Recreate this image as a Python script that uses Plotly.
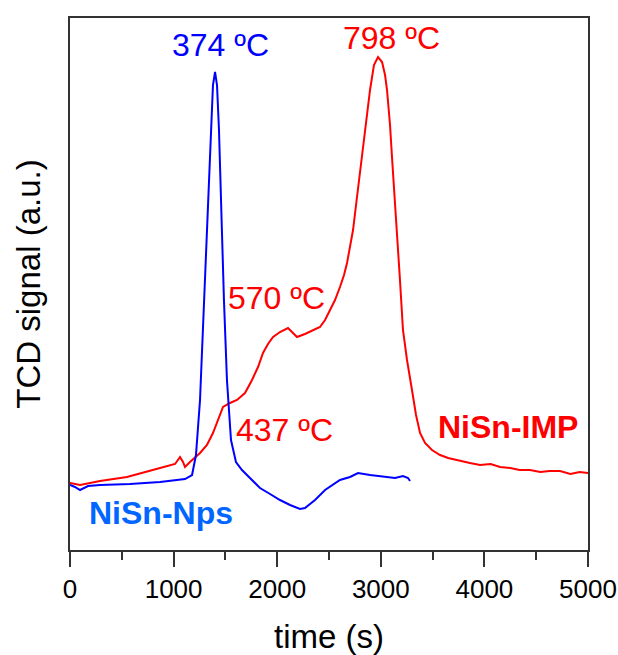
import plotly.graph_objects as go

# NiSn-Nps (blue)
nps_t = [0, 48, 97, 174, 290, 579, 869, 1110, 1178, 1216, 1255, 1294, 1332, 1361, 1380, 1400,
         1419, 1438, 1457, 1486, 1515, 1554, 1602, 1660, 1737, 1834, 1931, 2027, 2124, 2220,
         2268, 2365, 2462, 2606, 2703, 2780, 2896, 3041, 3137, 3214, 3263, 3282]
nps_s = [65, 63, 60, 64, 65, 66, 68, 71, 75, 95, 150, 250, 350, 430, 465, 478,
         465, 420, 350, 250, 170, 110, 88, 80, 72, 62, 56, 50, 45, 41,
         42, 50, 60, 70, 73, 77, 75, 73, 72, 74, 72, 69]

# NiSn-IMP (red)
imp_t = [0, 97, 290, 550, 869, 1014, 1062, 1091, 1110, 1158, 1255, 1322, 1380, 1429, 1477,
         1544, 1612, 1689, 1757, 1815, 1863, 1911, 1960, 2027, 2104, 2143, 2191, 2268, 2336,
         2413, 2462, 2510, 2558, 2606, 2645, 2674, 2703, 2732, 2761, 2790, 2819, 2857, 2896,
         2934, 2973, 3012, 3041, 3060, 3089, 3108, 3137, 3157, 3185, 3214, 3253, 3301, 3340,
         3379, 3427, 3494, 3572, 3650, 3765, 3860, 3958, 4060, 4151, 4250, 4340, 4440, 4540,
         4630, 4730, 4830, 4920, 5000]
imp_s = [67, 65, 69, 73, 82, 86, 93, 88, 83, 88, 97, 105, 117, 130, 143,
         147, 150, 157, 170, 183, 197, 206, 213, 218, 222, 218, 213, 216, 219,
         223, 230, 240, 250, 263, 275, 287, 302, 320, 345, 369, 393, 428, 460,
         485, 493, 488, 475, 460, 425, 393, 350, 320, 270, 220, 190, 160, 135,
         117, 107, 100, 95, 92, 89, 87, 85, 86, 83, 82, 80, 80, 78,
         79, 79, 76, 78, 77]

# annotations: (x, y, text, color, bold)
labels = [
    (1448, 505, "374 ºC", "rgb(0,0,255)", False),
    (3099, 512, "798 ºC", "rgb(255,0,0)", False),
    (1998, 252, "570 ºC", "rgb(255,0,0)", False),
    (2075, 120, "437 ºC", "rgb(255,0,0)", False),
    (878, 37, "NiSn-Nps", "rgb(0,102,255)", True),
    (4228, 123, "NiSn-IMP", "rgb(255,0,0)", True),
]

fig = go.Figure()
fig.add_trace(go.Scatter(x=imp_t, y=imp_s, mode="lines",
                         line=dict(color="rgb(255,0,0)", width=2), showlegend=False))
fig.add_trace(go.Scatter(x=nps_t, y=nps_s, mode="lines",
                         line=dict(color="rgb(0,0,255)", width=2), showlegend=False))

for x, y, t, c, b in labels:
    fig.add_annotation(x=x, y=y, text=f"<b>{t}</b>" if b else t, showarrow=False,
                       font=dict(family="Liberation Sans, Arial", size=32, color=c),
                       xanchor="center", yanchor="middle")

fig.update_layout(
    width=618, height=655,
    margin=dict(l=70, r=30, t=18, b=105),
    plot_bgcolor="white", paper_bgcolor="white",
    font=dict(family="Liberation Sans, Arial", size=26, color="black"),
    xaxis=dict(range=[0, 5000], tickvals=[0, 1000, 2000, 3000, 4000, 5000],
               ticks="outside", ticklen=15, tickwidth=1.5, tickcolor="#333",
               minor=dict(tickvals=[500, 1500, 2500, 3500, 4500], ticks="outside",
                          ticklen=8, tickwidth=1.5, tickcolor="#333"),
               showline=True, linecolor="#333", linewidth=1.5, mirror=True,
               showgrid=False, zeroline=False, automargin=False,
               title=dict(text="time (s)", font=dict(size=33), standoff=26),
               tickfont=dict(size=26)),
    yaxis=dict(range=[0, 532], showticklabels=False, ticks="",
               showline=True, linecolor="#333", linewidth=1.5, mirror=True,
               showgrid=False, zeroline=False, automargin=False,
               title=dict(text="TCD signal (a.u.)", font=dict(size=33), standoff=18)),
)

fig.write_html("out.html")
